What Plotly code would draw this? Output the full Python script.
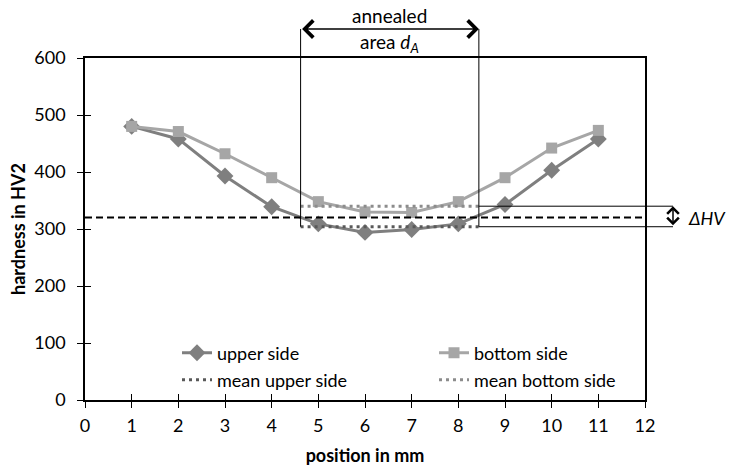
import plotly.graph_objects as go

# ---- data ----
positions = [1, 2, 3, 4, 5, 6, 7, 8, 9, 10, 11]
upper_side = [480, 458, 393, 339, 309, 294, 299, 309, 343, 403, 458]
bottom_side = [480, 471, 432, 390, 348, 330, 329, 348, 390, 442, 473]
annealed_start = 4.62
annealed_end = 8.44
mean_upper = 304
mean_bottom = 340
mean_all = 320
x_ticks = list(range(0, 13))
y_ticks = [0, 100, 200, 300, 400, 500, 600]

FONT = "Lato"
XMAX = 12
YMAX = 600
FS = 18

fig = go.Figure()

fig.add_trace(go.Scatter(
    x=positions, y=upper_side, name="upper side", mode="lines+markers",
    line=dict(color="#7f7f7f", width=3),
    marker=dict(symbol="diamond", size=13, color="#7f7f7f"),
    legend="legend"))
fig.add_trace(go.Scatter(
    x=positions, y=bottom_side, name="bottom side", mode="lines+markers",
    line=dict(color="#a6a6a6", width=3),
    marker=dict(symbol="square", size=11, color="#a6a6a6"),
    legend="legend2"))
fig.add_trace(go.Scatter(
    x=[annealed_start, annealed_end], y=[mean_upper, mean_upper],
    name="mean upper side", mode="lines",
    line=dict(color="#595959", width=3, dash="3px,4px"),
    legend="legend3"))
fig.add_trace(go.Scatter(
    x=[annealed_start, annealed_end], y=[mean_bottom, mean_bottom],
    name="mean bottom side", mode="lines",
    line=dict(color="#8c8c8c", width=3, dash="3px,4px"),
    legend="legend4"))
# dashed overall mean
fig.add_trace(go.Scatter(
    x=[0, XMAX], y=[mean_all, mean_all], mode="lines", showlegend=False,
    line=dict(color="black", width=2, dash="7px,4px"), hoverinfo="skip"))
# dummy trace for the overlay axes (inside tick halves)
fig.add_trace(go.Scatter(x=[None], y=[None], xaxis="x2", yaxis="y2",
                         showlegend=False, hoverinfo="skip"))

# ---- shapes for the annealed area / delta HV box ----
top_px_frac = 1.0848
line_style = dict(color="black", width=1)
for xv in (annealed_start, annealed_end):
    fig.add_shape(type="line", xref="paper", yref="paper",
                  x0=xv / XMAX, x1=xv / XMAX,
                  y0=mean_upper / YMAX, y1=top_px_frac, line=line_style)
for yv in (mean_upper, mean_bottom):
    fig.add_shape(type="line", xref="paper", yref="paper",
                  x0=annealed_end / XMAX, x1=1.05,
                  y0=yv / YMAX, y1=yv / YMAX, line=line_style)

# annealed arrow
fig.add_annotation(x=annealed_end, xref="x", y=top_px_frac, yref="paper",
                   ax=annealed_start, axref="x", ay=0, ayref="pixel",
                   text="", showarrow=True, arrowside="end+start",
                   arrowhead=4, startarrowhead=4, arrowwidth=1.5,
                   arrowsize=2.2, startarrowsize=2.2, arrowcolor="black")
fig.add_annotation(x=(annealed_start + annealed_end) / 2, xref="x",
                   y=1.1257, yref="paper", yanchor="middle",
                   text="annealed", showarrow=False,
                   font=dict(family=FONT, size=19, color="black"))
fig.add_annotation(x=(annealed_start + annealed_end) / 2, xref="x",
                   y=1.0439, yref="paper", yanchor="middle",
                   text="area <i>d</i><sub><i>A</i></sub>", showarrow=False,
                   font=dict(family=FONT, size=19, color="black"))
# delta HV arrow
fig.add_annotation(x=1.05, xref="paper", y=mean_bottom, yref="y",
                   ax=0, axref="pixel", ay=mean_upper, ayref="y",
                   text="", showarrow=True, arrowside="end+start",
                   arrowhead=4, startarrowhead=4, arrowwidth=1.5,
                   arrowsize=1.5, startarrowsize=1.5, arrowcolor="black")
fig.add_annotation(x=1.073, xref="paper", y=mean_all, yref="y",
                   xanchor="left", yanchor="middle",
                   text="<i>ΔHV</i>", showarrow=False,
                   font=dict(family=FONT, size=18, color="black"))

axis_common = dict(showgrid=False, zeroline=False, linecolor="black",
                   linewidth=1.5, ticks="outside", ticklen=6, tickwidth=1.2,
                   tickcolor="black", mirror=True, showline=True,
                   automargin=False,
                   tickfont=dict(family=FONT, size=FS, color="black"))

legend_common = dict(font=dict(family=FONT, size=FS, color="black"),
                     bgcolor="rgba(0,0,0,0)", xanchor="left",
                     yanchor="middle", itemwidth=30)

lx1 = (177 - 85) / 560
lx2 = (434 - 85) / 560
ly1 = (400 - 353) / 342
ly2 = (400 - 380) / 342

fig.update_layout(
    width=729, height=471,
    margin=dict(l=85, r=84, t=58, b=71, autoexpand=False),
    paper_bgcolor="white", plot_bgcolor="white",
    font=dict(family=FONT, color="black"),
    xaxis=dict(range=[0, XMAX], tickvals=x_ticks, ticktext=[str(v) for v in x_ticks],
               ticklabelstandoff=3,
               title=dict(text="<b>position in mm</b>", font=dict(family=FONT, size=18),
                          standoff=14),
               **axis_common),
    yaxis=dict(range=[0, YMAX], tickvals=y_ticks, ticktext=[str(v) for v in y_ticks],
               ticklabelstandoff=8,
               title=dict(text="<b>hardness in HV2</b>", font=dict(family=FONT, size=18),
                          standoff=4),
               **axis_common),
    xaxis2=dict(range=[0, XMAX], tickvals=x_ticks, overlaying="x", anchor="y2",
                side="bottom", showticklabels=False, showgrid=False, zeroline=False,
                automargin=False,
                showline=False, ticks="inside", ticklen=6, tickwidth=1.2, tickcolor="black"),
    yaxis2=dict(range=[0, YMAX], tickvals=y_ticks, overlaying="y", anchor="x2",
                side="left", showticklabels=False, showgrid=False, zeroline=False,
                automargin=False,
                showline=False, ticks="inside", ticklen=6, tickwidth=1.2, tickcolor="black"),
    legend=dict(x=lx1, y=ly1, **legend_common),
    legend2=dict(x=lx2, y=ly1, **legend_common),
    legend3=dict(x=lx1, y=ly2, **legend_common),
    legend4=dict(x=lx2, y=ly2, **legend_common),
    showlegend=True,
)

fig.write_html("out.html", config={"displayModeBar": False},
               post_script="document.body.style.margin='0';")
